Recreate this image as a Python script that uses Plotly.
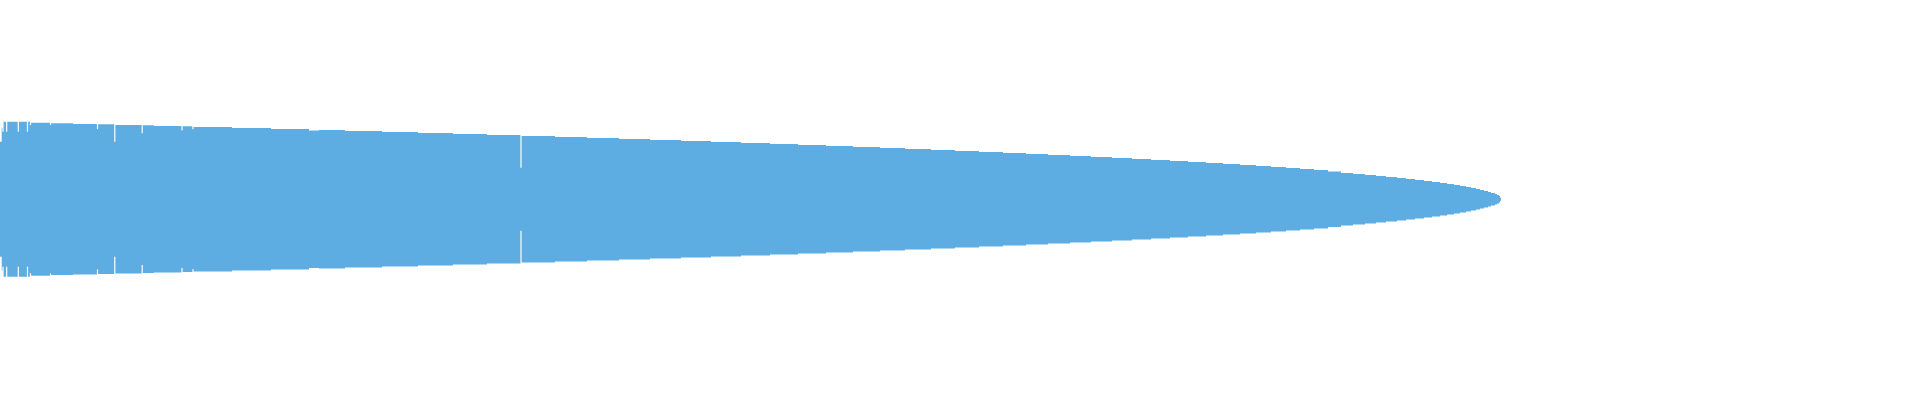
import numpy as np
import plotly.graph_objects as go

# outline of the shape (pixel units, symmetric around 0)
step_x = [0, 1.7, 3, 30, 51, 73, 98, 115, 143, 154, 182, 193, 232, 271, 309, 319,
          345, 382, 418, 453, 487, 521, 555, 587, 619, 650, 681, 711, 741, 770,
          798, 826, 853, 880, 905, 931, 955, 979, 1003, 1026, 1048, 1070, 1091,
          1112, 1132, 1151, 1170, 1188, 1206, 1223, 1240, 1256, 1271, 1286, 1300,
          1314, 1328, 1341, 1353, 1365, 1376, 1386, 1397, 1406, 1415, 1424, 1432,
          1440, 1447, 1454, 1460, 1466, 1471, 1476, 1480, 1484, 1488, 1491, 1495,
          1497, 1499, 1500, 1501]
half_height = [57.5, 71.2, 77.5, 76.5, 75.9, 75.2, 74.9, 74.2, 73.9, 73.2, 72.9, 72.2,
               71.2, 70.2, 68.8, 69.2, 68.2, 67.2, 66.2, 65.2, 64.2, 63.2, 62.2, 61.2,
               60.2, 59.2, 58.2, 57.2, 56.2, 55.2, 54.2, 53.2, 52.2, 51.2, 50.2, 49.2,
               48.2, 47.2, 46.2, 45.2, 44.2, 43.2, 42.2, 41.2, 40.2, 39.2, 38.2, 37.2,
               36.2, 35.2, 34.2, 33.2, 32.2, 31.2, 30.2, 29.2, 27.7, 26.2, 25.2, 24.2,
               23.2, 22.2, 21.2, 20.2, 19.2, 18.2, 17.2, 16.2, 15.2, 14.2, 13.2, 12.2,
               11.2, 10.2, 9.2, 8.2, 7.2, 6.2, 5.2, 4.2, 3.2, 1.5, 0]

# thin white breaks near the left end: position and where the break stops
gap_x = [3.0, 6.7, 18.3, 27.5, 30.5, 50.5, 97.5, 114.8, 142.2, 182.0, 193.0, 521.0]
gap_h = [67.5, 67.5, 67.5, 67.5, 74.0, 74.2, 70.2, 57.5, 65.9, 68.7, 70.0, 31.5]

color = "#5DADE2"
hh = np.array(half_height)

fig = go.Figure()
fig.add_trace(go.Scatter(x=step_x, y=-hh, mode="lines", line=dict(width=0, shape="hv"),
                         hoverinfo="skip"))
fig.add_trace(go.Scatter(x=step_x, y=hh, mode="lines", line=dict(width=0, shape="hv"),
                         fill="tonexty", fillcolor=color, hoverinfo="skip"))

# white breaks, mirrored top and bottom (run past the edge onto the white page)
over = 80
gx, gy = [], []
for x, h in zip(gap_x, gap_h):
    gx += [x, x, None, x, x, None]
    gy += [h, h + over, None, -h, -h - over, None]
fig.add_trace(go.Scatter(x=gx, y=gy, mode="lines", line=dict(color="white", width=1.2),
                         hoverinfo="skip"))

fig.update_layout(
    width=1920, height=400,
    margin=dict(l=0, r=0, t=0, b=0),
    paper_bgcolor="white", plot_bgcolor="white",
    showlegend=False,
    xaxis=dict(range=[0, 1920], visible=False),
    yaxis=dict(range=[-200.8, 199.2], visible=False),
)
# drop the browser's default page margin so the chart sits at 0,0
fig.write_html("out.html", config={"displayModeBar": False},
               post_script="document.body.style.margin='0';document.body.style.overflow='hidden';")
